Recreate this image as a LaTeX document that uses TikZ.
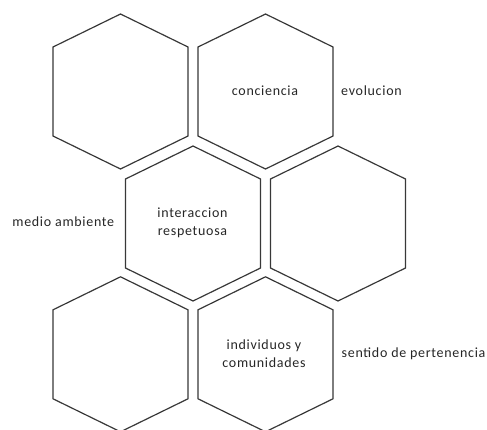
\documentclass[tikz,border=0pt]{standalone}
\usepackage{fontspec}
\setmainfont{Carlito}[LetterSpace=5]
\begin{document}
\begin{tikzpicture}[x=1pt,y=-1pt,
  hexline/.style={draw=black!78,line width=1.2pt,line join=miter},
  lbl/.style={font=\fontsize{14}{17.7}\selectfont,text=black!85,inner sep=0pt,align=center},
  pics/hexa/.style={code={
    \draw[hexline] (0,-77.5) -- (67.5,-44.5) -- (67.5,44.5) -- (0,77.5)
      -- (-67.5,44.5) -- (-67.5,-44.5) -- cycle;}}]
\useasboundingbox (0,0) rectangle (487,429);
\coordinate (h1) at (120.5,91.5);
\coordinate (h2) at (265.5,91.5);
\coordinate (h3) at (193,223.5);
\coordinate (h4) at (338,223.5);
\coordinate (h5) at (120.5,354.3);
\coordinate (h6) at (265.5,354.3);
\foreach \c in {h1,h2,h3,h4,h5,h6} \pic at (\c) {hexa};
\node[lbl] (conc) at (265,90.7) {conciencia};
\node[lbl,anchor=west] (evol) at (341,90.7) {evolucion};
\node[lbl] (medio) at (63.3,221.7) {medio ambiente};
\node[lbl] (inter) at (192.5,222.8) {interaccion\\respetuosa};
\node[lbl] (indiv) at (264,353.8) {individuos y\\comunidades};
\node[lbl,anchor=west] (sent) at (341.5,353.3) {sentido de pertenencia};
\end{tikzpicture}
\end{document}
